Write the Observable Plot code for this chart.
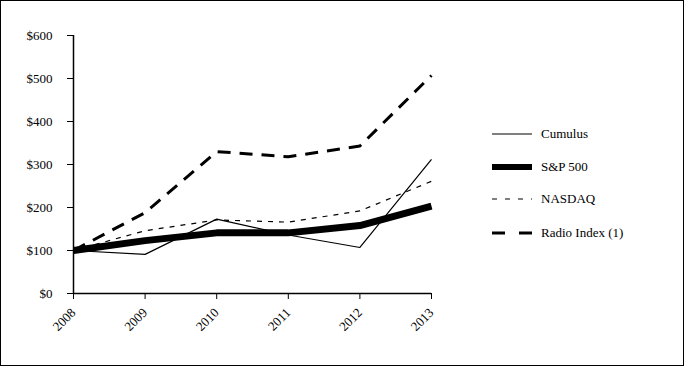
<!DOCTYPE html>
<html>
<head>
<meta charset="utf-8">
<script src="https://cdn.jsdelivr.net/npm/d3@7"></script>
<script src="https://cdn.jsdelivr.net/npm/@observablehq/plot@0.6"></script>
<style>
  html, body { margin: 0; padding: 0; background: #fff; }
  #wrap { position: relative; width: 684px; height: 366px; overflow: hidden; font-family: "Liberation Serif", "Times New Roman", serif; }
  #border { position: absolute; left: 0; top: 0; width: 684px; height: 366px; box-sizing: border-box; border: 1px solid #000; pointer-events: none; }
  #chart { position: absolute; left: 0; top: 0; }
  #legend { position: absolute; left: 0; top: 0; }
  #legend svg text { font-family: "Liberation Serif", "Times New Roman", serif; font-size: 13px; fill: #000; }
</style>
</head>
<body>
<div id="wrap">
  <div id="chart"></div>
  <div id="legend"></div>
  <div id="border"></div>
</div>
<script>
const years = [2008, 2009, 2010, 2011, 2012, 2013];
const cumulus = [100, 91, 173, 136, 107, 312];
const sp500 = [100, 123, 141, 141, 158, 203];
const nasdaq = [100, 146, 171, 166, 192, 261];
const radio = [100, 188, 330, 318, 343, 507];
const yTicks = [0, 100, 200, 300, 400, 500, 600];
const seriesNames = ["Cumulus", "S&P 500", "NASDAQ", "Radio Index (1)"];
const seriesValues = [cumulus, sp500, nasdaq, radio];
const seriesWidth = [1.2, 7, 1.2, 3];
const seriesDash = [null, null, "5,6", "13,9"];
const legendDash = [null, null, "5,8", "13,14"];

const rows = [];
seriesNames.forEach((name, i) => {
  years.forEach((yr, j) => rows.push({series: name, year: yr, value: seriesValues[i][j]}));
});

const lineMarks = seriesNames.map((name, i) =>
  Plot.line(rows.filter(d => d.series === name), {
    x: "year", y: "value",
    stroke: "#000",
    strokeWidth: seriesWidth[i],
    strokeDasharray: seriesDash[i] || undefined,
    strokeLinecap: "butt",
    strokeLinejoin: "round"
  })
);

const chart = Plot.plot({
  width: 684,
  height: 366,
  marginLeft: 73,
  marginRight: 253,
  marginTop: 35,
  marginBottom: 73,
  style: { fontFamily: "Liberation Serif, Times New Roman, serif", fontSize: "13px", color: "#000", background: "transparent" },
  x: { domain: [2008, 2013], ticks: years, tickFormat: d => String(d) },
  y: { domain: [0, 600], ticks: yTicks, tickFormat: d => "$" + d },
  marks: [
    Plot.axisY({ ticks: yTicks, tickFormat: d => "$" + d, tickSize: 6, tickPadding: 15, label: null, fontSize: 13 }),
    Plot.axisX({ ticks: years, tickFormat: d => String(d), tickSize: 6, tickPadding: 11, tickRotate: -45, label: null, fontSize: 13 }),
    Plot.ruleY([0], { stroke: "#000", strokeWidth: 1.5 }),
    Plot.ruleX([2008], { stroke: "#000", strokeWidth: 1.5 }),
    ...lineMarks
  ]
});
document.getElementById("chart").appendChild(chart);

// Legend
const legendY = [134, 167, 199, 233];
const ns = "http://www.w3.org/2000/svg";
const lsvg = document.createElementNS(ns, "svg");
lsvg.setAttribute("width", 684);
lsvg.setAttribute("height", 366);
seriesNames.forEach((name, i) => {
  const ln = document.createElementNS(ns, "line");
  ln.setAttribute("x1", 492); ln.setAttribute("x2", 532);
  ln.setAttribute("y1", legendY[i]); ln.setAttribute("y2", legendY[i]);
  ln.setAttribute("stroke", "#000");
  ln.setAttribute("stroke-width", seriesWidth[i] === 7 ? 6 : seriesWidth[i]);
  if (legendDash[i]) ln.setAttribute("stroke-dasharray", legendDash[i]);
  lsvg.appendChild(ln);
  const t = document.createElementNS(ns, "text");
  t.setAttribute("x", 541); t.setAttribute("y", legendY[i]);
  t.setAttribute("dy", "0.32em");
  t.textContent = name;
  lsvg.appendChild(t);
});
document.getElementById("legend").appendChild(lsvg);
</script>
</body>
</html>
